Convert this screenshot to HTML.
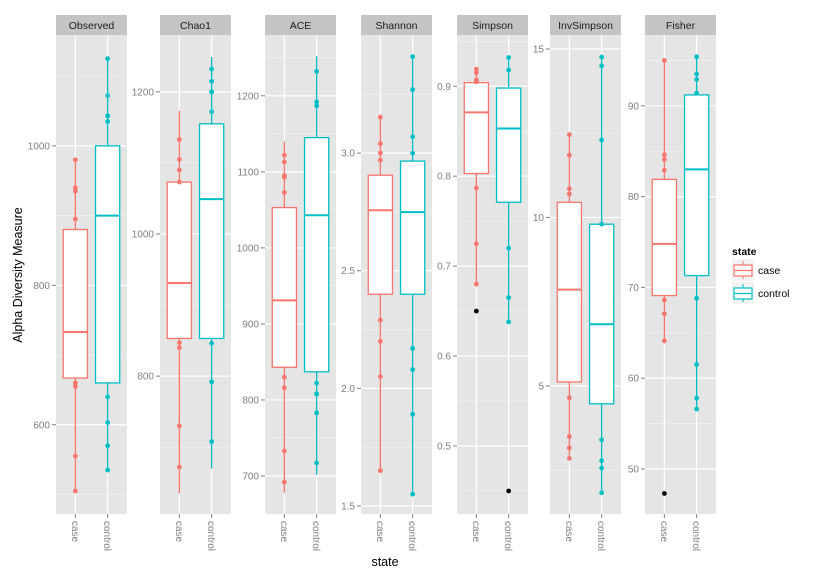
<!DOCTYPE html>
<html><head><meta charset="utf-8"><style>
body{margin:0;background:#fff;}
svg{display:block;font-family:"Liberation Sans",sans-serif;}
</style></head><body>
<svg id="chart" width="822" height="579"></svg>
<script>
const panelNames = ["Observed","Chao1","ACE","Shannon","Simpson","InvSimpson","Fisher"];
const panelDomains = [[472,1159],[606,1280],[650,1280],[1.466,3.502],[0.4244,0.957],[1.2,15.415],[45.04,97.8]];
const panelTicks = [[600,800,1000],[800,1000,1200],[700,800,900,1000,1100,1200],[1.5,2.0,2.5,3.0],[0.5,0.6,0.7,0.8,0.9],[5,10,15],[50,60,70,80,90]];
const tickLabels = [["600","800","1000"],["800","1000","1200"],["700","800","900","1000","1100","1200"],["1.5","2.0","2.5","3.0"],["0.5","0.6","0.7","0.8","0.9"],["5","10","15"],["50","60","70","80","90"]];
const categories = ["case","control"];
// [whiskerLow, q1, median, q3, whiskerHigh]
const caseBoxes = [[505,667,733,880,980],[635,853,931,1073,1173],[678,843,931,1053,1140],[1.65,2.40,2.757,2.906,3.153],[0.68,0.803,0.871,0.904,0.919],[2.85,5.12,7.86,10.45,12.46],[64,69.1,74.8,81.9,95]];
const controlBoxes = [[535,660,900,1000,1125],[670,853,1049,1155,1249],[702,837,1043,1145,1252],[1.55,2.40,2.749,2.966,3.41],[0.638,0.771,0.853,0.898,0.932],[1.83,4.47,6.83,9.8,14.76],[56.6,71.3,83.0,91.2,95.4]];
const casePoints = [[980,940,935,895,660,655,555,505],[1133,1105,1090,1073,847,840,730,672],[1122,1113,1095,1093,1073,830,816,733,692],[3.153,3.04,3.0,2.97,2.29,2.2,2.05,1.65],[0.919,0.915,0.907,0.905,0.787,0.725,0.68],[12.46,11.85,10.85,10.7,4.65,3.5,3.16,2.85],[95,84.6,84.1,82.9,68.6,67.1,64.1]];
const controlPoints = [[1125,1072,1043,1035,640,603,570,535],[1232,1215,1200,1172,846,792,708],[1232,1192,1187,822,808,783,717],[3.41,3.27,3.07,3.0,2.17,2.08,1.89,1.55],[0.932,0.918,0.72,0.665,0.638],[14.76,14.5,12.3,9.8,3.4,2.78,2.56,1.83],[95.4,93.5,92.9,91.4,68.8,61.5,57.8,56.6]];
const outlierPanels = ["Simpson","Simpson","Fisher"];
const outlierCats = ["case","control","case"];
const outlierValues = [0.65,0.45,47.3];

const NS="http://www.w3.org/2000/svg";
const svg=document.getElementById('chart');
function mk(tag,attrs,parent){const e=document.createElementNS(NS,tag);for(const k in attrs)e.setAttribute(k,attrs[k]);(parent||svg).appendChild(e);return e;}
const panelX=[56,160,265,361,457,550,645], PW=71, TOP=35, BOT=514;
const colors={case:"#F8766D",control:"#00BFC4"};
function yScale(p,v){const d=panelDomains[p];return BOT-(v-d[0])/(d[1]-d[0])*(BOT-TOP);}
function xScale(p,ci){return panelX[p]+(ci+1-0.4)/2.2*PW;}

panelNames.forEach((name,p)=>{
  const g=mk('g',{});
  
  
  const x0=panelX[p];
  const strip=mk('rect',{x:x0,y:15,width:PW,height:20,fill:'#c4c4c4'},g);
  
  
  const st=mk('text',{x:x0+PW/2,y:29,'text-anchor':'middle','font-size':'10.5',fill:'#1a1a1a'},g);
  st.textContent=name;
  
  
  const bg=mk('rect',{x:x0,y:TOP,width:PW,height:BOT-TOP,fill:'#e5e5e5'},g);
  
  
  const ticks=panelTicks[p];
  const step=ticks[1]-ticks[0];
  for(let v=ticks[0]-step/2;v<=panelDomains[p][1];v+=step){
    if(v<panelDomains[p][0])continue;
    const y=yScale(p,v);
    mk('line',{x1:x0,x2:x0+PW,y1:y,y2:y,stroke:'#f2f2f2','stroke-width':0.6},g);
  }
  ticks.forEach((v,i)=>{
    const y=yScale(p,v);
    mk('line',{x1:x0,x2:x0+PW,y1:y,y2:y,stroke:'#fff','stroke-width':1.2},g);
    mk('line',{x1:x0-4,x2:x0,y1:y,y2:y,stroke:'#7f7f7f','stroke-width':1},g);
    const t=mk('text',{x:x0-6,y:y+3.5,'text-anchor':'end','font-size':'10',fill:'#7f7f7f'},g);
    t.textContent=tickLabels[p][i];
    
    
  });
  categories.forEach((c,ci)=>{
    const cx=xScale(p,ci);
    mk('line',{x1:cx,x2:cx,y1:TOP,y2:BOT,stroke:'#fff','stroke-width':1.2},g);
    mk('line',{x1:cx,x2:cx,y1:BOT,y2:BOT+4,stroke:'#7f7f7f','stroke-width':1},g);
    const t=mk('text',{x:0,y:0,'font-size':'10',fill:'#7f7f7f',transform:`translate(${cx-3.5},${BOT+7}) rotate(90)`},g);
    t.textContent=c;
    
    
    const b=(ci==0?caseBoxes:controlBoxes)[p];
    const col=colors[c];
    const bw=0.75/2.2*PW;
    const wl=mk('line',{x1:cx,x2:cx,y1:yScale(p,b[0]),y2:yScale(p,b[4]),stroke:col,'stroke-width':1.3},g);
    
    
    const box=mk('rect',{x:cx-bw/2,y:yScale(p,b[3]),width:bw,height:yScale(p,b[1])-yScale(p,b[3]),fill:'#fff',stroke:col,'stroke-width':1.3},g);
    
    
    const med=mk('line',{x1:cx-bw/2,x2:cx+bw/2,y1:yScale(p,b[2]),y2:yScale(p,b[2]),stroke:col,'stroke-width':2},g);
    
    
    (ci==0?casePoints:controlPoints)[p].forEach(v=>{
      const pt=mk('circle',{cx:cx,cy:yScale(p,v),r:2.4,fill:col},g);
      
      
    });
  });
});
outlierValues.forEach((v,i)=>{
  const p=panelNames.indexOf(outlierPanels[i]);
  const ci=categories.indexOf(outlierCats[i]);
  const o=mk('circle',{cx:xScale(p,ci),cy:yScale(p,v),r:2.4,fill:'#000'});
  
  
});
const yt=mk('text',{x:0,y:0,'font-size':'12.5',fill:'#000','text-anchor':'middle',transform:'translate(22,275) rotate(-90)'});
yt.textContent='Alpha Diversity Measure';


const xt=mk('text',{x:385,y:566,'font-size':'12.5',fill:'#000','text-anchor':'middle'});
xt.textContent='state';


// legend
const lg=mk('g',{});


const lt=mk('text',{x:732,y:255,'font-size':'10.5','font-weight':'bold',fill:'#000'},lg);
lt.textContent='state';
categories.forEach((c,i)=>{
  const y0=259+i*23;
  const e=mk('g',{},lg);
  
  
  mk('rect',{x:732,y:y0,width:22,height:22,fill:'#f2f2f2'},e);
  mk('line',{x1:743,x2:743,y1:y0+2,y2:y0+20,stroke:colors[c],'stroke-width':1},e);
  mk('rect',{x:734,y:y0+6,width:18,height:11,fill:'#fff',stroke:colors[c],'stroke-width':1.2},e);
  mk('line',{x1:734,x2:752,y1:y0+11.5,y2:y0+11.5,stroke:colors[c],'stroke-width':1.2},e);
  const t=mk('text',{x:758,y:y0+15,'font-size':'10.5',fill:'#000'},e);
  t.textContent=c;
});
</script>
</body></html>
